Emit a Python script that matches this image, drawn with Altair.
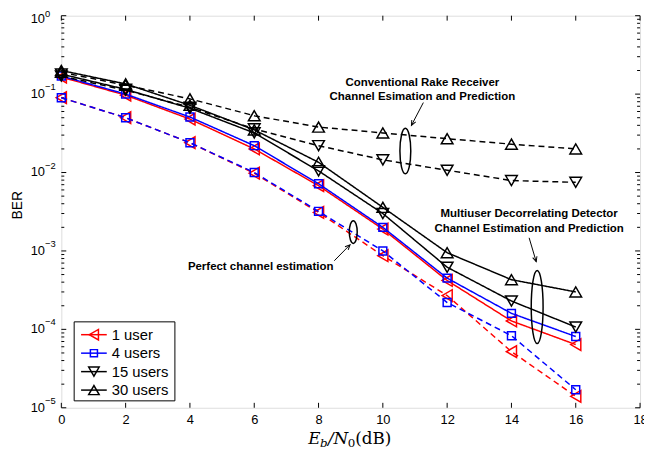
import math
import altair as alt
import pandas as pd

# ---------------- data ----------------
snr = [0, 2, 4, 6, 8, 10, 12, 14, 16]
groups = ["1 user", "4 users", "15 users", "30 users"]

# solid curves: multiuser decorrelating detector with channel estimation and prediction
mud_1 = [0.165, 0.097, 0.048, 0.020, 0.0068, 0.0019, 4.2e-4, 1.28e-4, 6.4e-5]
mud_4 = [0.170, 0.100, 0.051, 0.022, 0.0072, 0.0020, 4.5e-4, 1.6e-4, 8.1e-5]
mud_15 = [0.180, 0.115, 0.066, 0.032, 0.0105, 0.0030, 6.2e-4, 2.3e-4, 1.07e-4]
mud_30 = [0.200, 0.135, 0.072, 0.035, 0.0135, 0.0036, 9.5e-4, 4.3e-4, 3.0e-4]
# dashed curves: perfect channel estimation (1, 4 users) / conventional rake receiver (15, 30 users)
perfect_1 = [0.090, 0.050, 0.024, 0.0098, 0.0031, 8.7e-4, 2.7e-4, 5.2e-5, 1.4e-5]
perfect_4 = [0.090, 0.050, 0.024, 0.0100, 0.0032, 1.0e-3, 2.2e-4, 8.3e-5, 1.7e-5]
rake_15 = [0.170, 0.112, 0.068, 0.036, 0.022, 0.0145, 0.0107, 0.0079, 0.0075]
rake_30 = [0.190, 0.130, 0.087, 0.053, 0.038, 0.032, 0.027, 0.023, 0.020]

x_ticks = [0, 2, 4, 6, 8, 10, 12, 14, 16, 18]
y_exps = [0, -1, -2, -3, -4, -5]

ann_text = ["Conventional Rake Receiver", "Channel Esimation and Prediction",
            "Multiuser Decorrelating Detector", "Channel Estimation and Prediction",
            "Perfect channel estimation"]
ann_x = [11.23, 11.23, 14.55, 14.55, 6.2]
ann_y = [0.139, 0.0927, 0.00295, 0.0019, 6.2e-4]

ell_x = [10.7, 9.08, 14.8]
ell_y = [0.0188, 0.00174, 1.93e-4]

arr_x1 = [11.26, 8.49, 14.55]
arr_y1 = [0.078, 7.5e-4, 1.47e-3]
arr_x2 = [10.89, 8.98, 14.77]
arr_y2 = [0.040, 1.2e-3, 7.3e-4]

# ---------------- styling ----------------
W, H = 586, 397
colors = ["#ff0000", "#0000ff", "#000000", "#000000"]
shapes = ["triangle-left", "square", "triangle-down", "triangle-up"]
msizes = [140, 64, 140, 140]
FONT = "Liberation Sans"

solid = dict(zip(groups, [mud_1, mud_4, mud_15, mud_30]))
dashed = dict(zip(groups, [perfect_1, perfect_4, rake_15, rake_30]))

rows = []
for g in groups:
    for s, b in zip(snr, solid[g]):
        rows.append({"group": g, "kind": "solid", "snr": s, "ber": b})
    for s, b in zip(snr, dashed[g]):
        rows.append({"group": g, "kind": "dashed", "snr": s, "ber": b})
df = pd.DataFrame(rows)

xscale = alt.Scale(domain=[0, 18], nice=False, zero=False)
yscale = alt.Scale(type="log", domain=[1e-5, 1], nice=False)
xaxis = alt.Axis(values=x_ticks, tickSize=0, domain=False, grid=False,
                 labelFont=FONT, labelFontSize=13, labelPadding=6,
                 labelColor="black", labelFlush=False, title=None)


def X(field):
    return alt.X(field, type="quantitative", scale=xscale, axis=xaxis)


def Y(field):
    return alt.Y(field, type="quantitative", scale=yscale, axis=None)


layers = []

# frame ticks (inside, MATLAB style)
tick_df = pd.DataFrame({"t": x_ticks})
layers.append(alt.Chart(tick_df).mark_rule(color="black", strokeWidth=1).encode(
    x=X("t"), y=alt.value(H), y2=alt.value(H - 5)))
layers.append(alt.Chart(tick_df).mark_rule(color="black", strokeWidth=1).encode(
    x=X("t"), y=alt.value(0), y2=alt.value(5)))
major_df = pd.DataFrame({"v": [10.0 ** e for e in y_exps]})
minor_df = pd.DataFrame({"v": [k * 10.0 ** e for e in range(-5, 0) for k in range(2, 10)]})
for xa, xb in [(0, 5), (W, W - 5)]:
    layers.append(alt.Chart(major_df).mark_rule(color="black", strokeWidth=1).encode(
        y=Y("v"), x=alt.value(xa), x2=alt.value(xb)))
for xa, xb in [(0, 3), (W, W - 3)]:
    layers.append(alt.Chart(minor_df).mark_rule(color="black", strokeWidth=1).encode(
        y=Y("v"), x=alt.value(xa), x2=alt.value(xb)))

# y tick labels 10^e (the top one is nudged down so it stays inside the page)
ylab_df = pd.DataFrame({"v": [10.0 ** e for e in y_exps],
                        "sup": [str(e).replace("-", "\u2212") for e in y_exps]})
top_df = ylab_df.iloc[:1]
rest_df = ylab_df.iloc[1:]
for part, d_base, d_sup in [(rest_df, 0, -7), (top_df, 3, -1.5)]:
    layers.append(alt.Chart(part).mark_text(align="left", baseline="middle", font=FONT,
                                            fontSize=13, dy=d_base, color="black").encode(
        y=Y("v"), x=alt.value(-31), text=alt.value("10")))
    layers.append(alt.Chart(part).mark_text(align="left", baseline="middle", font=FONT,
                                            fontSize=9.5, dy=d_sup, color="black").encode(
        y=Y("v"), x=alt.value(-16.5), text="sup:N"))

# data series
dash_scale = alt.Scale(domain=["solid", "dashed"], range=[[1, 0], [6, 4]])
for i, g in enumerate(groups):
    sub = df[df["group"] == g]
    layers.append(alt.Chart(sub).mark_line(color=colors[i], strokeWidth=1.5).encode(
        x=X("snr"), y=Y("ber"), detail="kind:N",
        strokeDash=alt.StrokeDash("kind:N", scale=dash_scale, legend=None)))
    layers.append(alt.Chart(sub).mark_point(shape=shapes[i], color=colors[i], filled=False,
                                            size=msizes[i], strokeWidth=1.5, opacity=1).encode(
        x=X("snr"), y=Y("ber")))

# annotations: text
ann_df = pd.DataFrame({"text": ann_text, "x": ann_x, "y": ann_y})
layers.append(alt.Chart(ann_df).mark_text(font=FONT, fontWeight="bold", color="black",
                                          fontSize=11.6, align="center",
                                          baseline="middle").encode(
    x=X("x"), y=Y("y"), text="text:N"))

# annotations: ellipses (half-height px, half-width px)
ell_dims = [(23, 5.5), (11.5, 4), (37, 6)]
k = 0.5523
for ex, ey, (hh, hw) in zip(ell_x, ell_y, ell_dims):
    a = hw / hh
    path = (f"M0,-1 C{k*a:.4f},-1 {a:.4f},{-k:.4f} {a:.4f},0 "
            f"C{a:.4f},{k:.4f} {k*a:.4f},1 0,1 "
            f"C{-k*a:.4f},1 {-a:.4f},{k:.4f} {-a:.4f},0 "
            f"C{-a:.4f},{-k:.4f} {-k*a:.4f},-1 0,-1 Z")
    layers.append(alt.Chart(pd.DataFrame({"x": [ex], "y": [ey]})).mark_point(
        shape=path, size=(2 * hh) ** 2, filled=False, color="black",
        strokeWidth=1.5, opacity=1).encode(x=X("x"), y=Y("y")))

# annotations: arrows
arr_df = pd.DataFrame({"x1": arr_x1, "y1": arr_y1, "x2": arr_x2, "y2": arr_y2})


def px(x):
    return x / 18 * W


def py(y):
    return -math.log10(y) / 5 * H


arr_df["ang"] = [
    (math.degrees(math.atan2(px(b) - px(a), -(py(d) - py(c)))) + 360) % 360
    for a, c, b, d in zip(arr_x1, arr_y1, arr_x2, arr_y2)
]
layers.append(alt.Chart(arr_df).mark_rule(color="black", strokeWidth=1).encode(
    x=X("x1"), y=Y("y1"), x2="x2", y2="y2"))
layers.append(alt.Chart(arr_df).mark_point(shape="M-0.45,1L0,0L0.45,1", size=100,
                                           filled=False, color="black", strokeWidth=1,
                                           opacity=1).encode(
    x=X("x2"), y=Y("y2"), angle=alt.Angle("ang:Q", scale=None)))

# legend (manual, with line through the marker)
layers.append(alt.Chart(pd.DataFrame({"a": [0]})).mark_rect(
    fill="white", stroke="black", strokeWidth=1).encode(
    x=alt.value(13), x2=alt.value(115), y=alt.value(310), y2=alt.value(390)))
for i, g in enumerate(groups):
    ly = 323 + i * 18.7
    one = pd.DataFrame({"group": [g]})
    layers.append(alt.Chart(one).mark_rule(color=colors[i], strokeWidth=1.5).encode(
        x=alt.value(20), x2=alt.value(46), y=alt.value(ly)))
    layers.append(alt.Chart(one).mark_point(shape=shapes[i], color=colors[i], filled=False,
                                            size=msizes[i] * 0.8, strokeWidth=1.5,
                                            opacity=1).encode(
        x=alt.value(33), y=alt.value(ly)))
    layers.append(alt.Chart(one).mark_text(align="left", baseline="middle", font=FONT,
                                           fontSize=15, color="black").encode(
        x=alt.value(51), y=alt.value(ly), text="group:N"))

# axis titles
layers.append(alt.Chart(pd.DataFrame({"t": ["BER"]})).mark_text(
    angle=270, font=FONT, fontSize=14, color="black", align="center",
    baseline="middle").encode(x=alt.value(-44), y=alt.value(192), text="t:N"))

title_parts = [("E", 312, 17, "italic", 0), ("b", 324, 12, "italic", 2.5),
               ("/", 332, 17, "italic", 0), ("N", 337.5, 17, "italic", 0),
               ("0", 352, 12, "normal", 2.5), ("(dB)", 359.5, 17, "normal", 0)]
for txt, xp, fs, style, dy in title_parts:
    layers.append(alt.Chart(pd.DataFrame({"t": [txt]})).mark_text(
        font="DejaVu Serif", fontSize=fs, fontStyle=style, color="black",
        align="left", baseline="alphabetic").encode(
        x=alt.value(xp - 62), y=alt.value(434 + dy), text="t:N"))

chart = alt.layer(*layers).properties(
    width=W, height=H,
    autosize=alt.AutoSizeParams(type="none"),
    padding={"left": 54, "top": 5, "right": 4, "bottom": 43},
).configure_view(stroke="black", strokeWidth=1).configure(background="white")

chart.save("out.html", embed_options={"renderer": "svg", "actions": False})
